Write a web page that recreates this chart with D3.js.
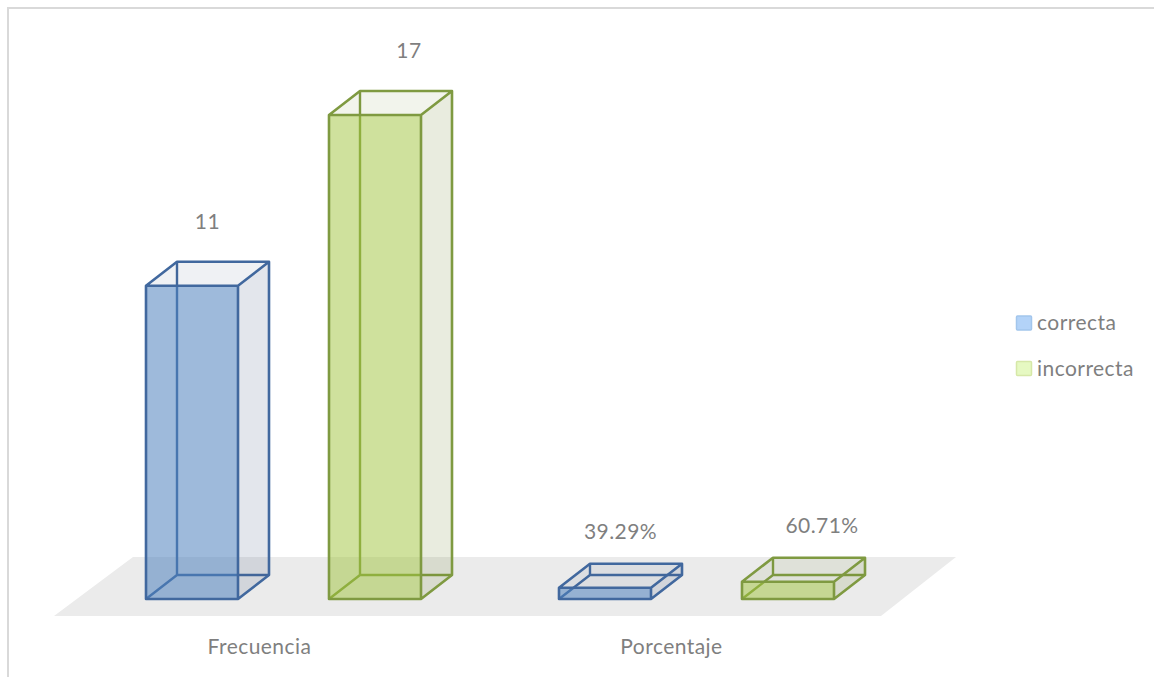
<!DOCTYPE html>
<html><head><meta charset="utf-8">
<script src="https://cdnjs.cloudflare.com/ajax/libs/d3/7.8.5/d3.min.js"></script>
<style>html,body{margin:0;padding:0;background:#fff;overflow:hidden}svg{display:block}text{font-family:Lato,"Open Sans",sans-serif;fill:#7f7f7f;letter-spacing:.45px}</style>
</head><body><svg id="c" width="1154" height="677"></svg>
<script>
const categories = ["Frecuencia","Porcentaje"];
const seriesNames = ["correcta","incorrecta"];
const correcta = [11, 0.3929];
const incorrecta = [17, 0.6071];
const allValues = [correcta, incorrecta];
const isPercent = [false, true];

const svg = d3.select("#c");
const W=1154,H=677, dx=31, dy=-24, base=599;
const y = d3.scaleLinear().domain([0,17]).range([base,115]);
const x0 = d3.scaleBand().domain(categories).range([54,880]);
const x1 = d3.scaleBand().domain(seriesNames).range([92,367]).paddingInner(91/183);
const style = {
  correcta:{line:"#41689e",face:"rgb(79,129,189)",shade:"rgb(70,90,130)",front:.55,top:.085,side:.15,leg:"#b3d3f8",legB:"#a3c6ec",lx:0},
  incorrecta:{line:"#7f9a41",face:"rgb(160,195,60)",shade:"rgb(110,130,40)",front:.5,top:.09,side:.15,leg:"#e6f9c2",legB:"#d6e8a8",lx:18.5}
};
const fs=21;
svg.append("path").attr("d",`M8,${H}V8H${W}`).attr("fill","none").attr("stroke","#d9d9d9").attr("stroke-width",2);
svg.append("polygon").attr("points",`133,557 956,557 881,616 54,616`).attr("fill","#ebebeb");

const poly=(g,pts,fill,op)=>g.append("polygon").attr("points",pts.map(p=>p.join(",")).join(" ")).attr("fill",fill).attr("fill-opacity",op);
seriesNames.forEach((s,si)=>{
  categories.forEach((c,ci)=>{
    const v=allValues[si][ci], st=style[s];
    const l=x0(c)+x1(s), r=l+x1.bandwidth(), t=y(v), b=y(0);
    const g=svg.append("g");
    const o=(x,yy)=>[x+dx,yy+dy];
    g.append("path").attr("fill","none").attr("stroke",st.line).attr("stroke-width",2.4).attr("stroke-linejoin","round")
     .attr("d",`M${l},${b}L${o(l,b)}L${o(r,b)}M${o(l,b)}L${o(l,t)}`);
    poly(g,[[l,t],[r,t],[r,b],[l,b]],st.face,st.front);
    poly(g,[[l,t],[r,t],o(r,t),o(l,t)],st.shade,st.top);
    poly(g,[[r,t],o(r,t),o(r,b),[r,b]],st.shade,st.side);
    g.append("path").attr("fill","none").attr("stroke",st.line).attr("stroke-width",2.6).attr("stroke-linejoin","round")
     .attr("d",`M${l},${t}H${r}V${b}H${l}Z M${l},${t}L${o(l,t)}L${o(r,t)}L${[r,t]} M${o(r,t)}L${o(r,b)}L${r},${b}`);
    g.append("text").attr("x",(l+r+dx)/2+st.lx).attr("y",t+dy-(isPercent[ci]?32:40)+7)
     .attr("text-anchor","middle").attr("font-size",fs)
     .text(isPercent[ci]?d3.format(".2%")(v):d3.format("d")(v));
  });
});
categories.forEach(c=>{
  svg.append("text").attr("x",x0(c)+x0.bandwidth()/2-(c===categories[0]?1:2)).attr("y",654).attr("text-anchor","middle").attr("font-size",fs).text(c);
});
const legY=d3.scalePoint().domain(seriesNames).range([323,368.5]);
seriesNames.forEach(s=>{
  svg.append("rect").attr("x",1016.5).attr("y",legY(s)-7).attr("width",15).attr("height",14).attr("rx",1)
   .attr("fill",style[s].leg).attr("stroke",style[s].legB).attr("stroke-width",1.5);
  svg.append("text").attr("x",1037).attr("y",legY(s)+7).attr("font-size",fs).text(s);
});
</script></body></html>
